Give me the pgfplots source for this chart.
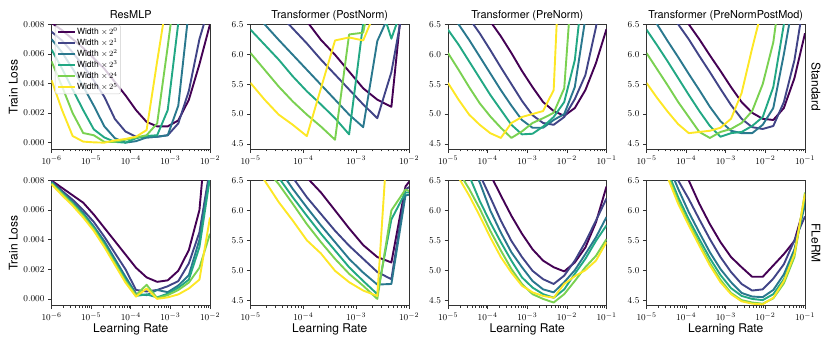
\documentclass[border=0pt]{standalone}
\usepackage{fontspec}
\setmainfont{TeX Gyre Heros}
\usepackage{pgfplots}
\usepackage{pgfplotstable}
\pgfplotsset{compat=1.18}

\definecolor{v0}{HTML}{440154}
\definecolor{v1}{HTML}{414487}
\definecolor{v2}{HTML}{2A788E}
\definecolor{v3}{HTML}{22A884}
\definecolor{v4}{HTML}{7AD151}
\definecolor{v5}{HTML}{FDE725}

\newcommand\lbl{\fontsize{12}{14}\selectfont}

% ResMLP, standard parametrisation
\pgfplotstableread{
lr        w0      w1      w2      w3      w4      w5
1e-6      0.0081  0.0075  0.0070  0.0063  0.0055  0.00423
1.848e-6  0.0076  0.0069  0.0061  0.0050  0.0038  0.0022
3.415e-6  0.0070  0.0061  0.0050  0.0036  0.0020  0.00045
6.310e-6  0.0064  0.0052  0.0038  0.0022  0.00065 0.00007
1.166e-5  0.0057  0.0042  0.0025  0.0009  0.0005  0.00002
2.154e-5  0.0050  0.0031  0.0011  0.00035 0.00005 0.0
3.981e-5  0.0041  0.0016  0.0003  0.00005 0.00005 0.00015
7.356e-5  0.0032  0.00075 0.0     0.0     0.0002  0.00025
1.359e-4  0.0022  0.0004  0.0001  0.0003  0.00035 0.0004
2.512e-4  0.0014  0.00035 0.00035 0.00045 0.0005  0.00085
4.642e-4  0.0011  0.0004  0.0004  0.0005  0.0013  0.0055
8.577e-4  0.0011  0.0005  0.0005  0.0022  0.0065  0.0100
1.585e-3  0.0015  0.0013  0.0025  0.0081  0.0120  0.0140
2.929e-3  0.0029  0.0035  0.0090  0.0120  0.0140  0.0160
5.412e-3  0.0053  0.0070  0.0120  0.0140  0.0160  0.0180
1e-2      0.0080  0.0094  0.0140  0.0160  0.0180  0.0200
}\mlpstd

% Transformer PostNorm, standard
\pgfplotstableread{
lr        w0    w1    w2    w3    w4    w5
1.000e-5  7.9   7.4   6.8   6.41  6.02  5.52
1.848e-5  7.6   7.1   6.5   6.16  5.74  5.24
3.415e-5  7.3   6.68  6.24  5.91  5.46  4.99
6.310e-5  7.0   6.43  5.99  5.63  5.21  4.82
1.166e-4  6.55  6.18  5.74  5.38  4.99  4.63
2.154e-4  6.24  5.91  5.49  5.16  4.79  5.43
3.981e-4  5.99  5.66  5.24  4.93  4.57  6.23
7.356e-4  5.71  5.41  4.99  4.66  6.33  6.28
1.359e-3  5.43  5.16  4.78  6.52  6.36  6.23
2.512e-3  5.24  4.93  6.22  7.0   7.57  6.8
4.642e-3  5.12  5.7   6.74  6.26  8.5   7.5
8.577e-3  7.44  7.0   7.5   6.93  9.0   8.0
1.585e-2  8.0   7.5   8.0   7.5   9.5   8.5
}\poststd

% Transformer PreNorm, standard
\pgfplotstableread{
lr        w0    w1    w2    w3    w4    w5
1.000e-5  7.6   7.2   6.8   6.41  6.02  5.52
1.848e-5  7.3   6.9   6.5   6.16  5.74  5.24
3.415e-5  7.05  6.6   6.24  5.88  5.45  4.99
6.310e-5  6.8   6.35  5.96  5.6   5.18  4.82
1.166e-4  6.55  6.07  5.68  5.32  4.96  4.68
2.154e-4  6.3   5.78  5.4   5.07  4.77  4.6
3.981e-4  6.02  5.5   5.14  4.82  4.6   4.85
7.356e-4  5.72  5.22  4.9   4.66  4.71  4.95
1.359e-3  5.45  4.98  4.77  4.67  4.85  5.0
2.512e-3  5.2   4.85  4.77  4.79  4.93  5.05
4.642e-3  5.05  4.82  4.9   4.95  5.02  5.4
8.577e-3  4.97  4.95  5.0   5.2   5.43  9.3
1.585e-2  5.1   5.25  5.45  5.9   7.9   12
2.929e-2  5.4   5.65  6.6   7.5   10    14
5.412e-2  5.85  6.45  8.0   9.0   12    16
1.000e-1  6.42  7.6   9.0   10    14    18
}\prestd

% Transformer PreNormPostMod, standard
\pgfplotstableread{
lr        w0    w1    w2    w3    w4    w5
1.000e-5  7.6   7.3   6.8   6.41  6.02  5.52
1.848e-5  7.3   7.0   6.5   6.15  5.75  5.27
3.415e-5  7.05  6.75  6.22  5.88  5.48  5.04
6.310e-5  6.8   6.5   5.95  5.6   5.2   4.83
1.166e-4  6.5   6.25  5.67  5.32  4.95  4.68
2.154e-4  6.25  5.97  5.4   5.05  4.7   4.7
3.981e-4  5.98  5.7   5.12  4.8   4.6   4.72
7.356e-4  5.72  5.42  4.88  4.62  4.7   4.77
1.359e-3  5.45  5.15  4.72  4.68  4.75  4.92
2.512e-3  5.2   4.92  4.68  4.7   4.85  5.35
4.642e-3  5.02  4.78  4.68  4.8   5.05  6.1
8.577e-3  4.92  4.75  4.82  4.95  5.5   6.8
1.585e-2  4.9   4.8   5.1   5.45  6.2   8.0
2.929e-2  5.1   5.2   6.0   6.5   7.5   10
5.412e-2  5.6   5.9   7.0   8.0   9.0   12
1.000e-1  6.35  7.0   8.0   9.0   10    14
}\modstd

% ResMLP, FLeRM
\pgfplotstableread{
lr        w0      w1      w2      w3      w4      w5
1e-6      0.0080  0.00795 0.0079  0.00785 0.0078  0.00775
1.848e-6  0.0075  0.0073  0.0072  0.00715 0.0071  0.0070
3.415e-6  0.0070  0.0067  0.00655 0.00645 0.0064  0.0063
6.310e-6  0.0065  0.0060  0.0058  0.0057  0.0056  0.0055
1.166e-5  0.0057  0.0052  0.0049  0.0048  0.0047  0.0046
2.154e-5  0.0048  0.0042  0.0039  0.0037  0.0036  0.0035
3.981e-5  0.0039  0.0031  0.0027  0.0025  0.0024  0.0023
7.356e-5  0.0030  0.0020  0.0015  0.0013  0.0012  0.0011
1.359e-4  0.0021  0.0006  0.00035 0.0002  0.00025 0.00015
2.512e-4  0.00145 0.0005  0.00025 0.0003  0.00095 0.0007
4.642e-4  0.00115 0.0006  0.0006  0.0001  0.00005 0.0
8.577e-4  0.00125 0.00085 0.00045 0.00035 0.00025 0.0001
1.585e-3  0.0019  0.0012  0.0009  0.00075 0.0006  0.0003
2.929e-3  0.0033  0.0024  0.0016  0.0013  0.0011  0.0007
5.412e-3  0.0060  0.0045  0.0040  0.0035  0.0021  0.0013
1e-2      0.0140  0.0088  0.0085  0.0082  0.0044  0.0055
}\mlpfl

% Transformer PostNorm, FLeRM
\pgfplotstableread{
lr        w0    w1    w2    w3    w4    w5
1.000e-5  7.9   7.6   7.4   7.2   7.0   6.9
1.848e-5  7.6   7.3   7.05  6.85  6.72  6.5
3.415e-5  7.3   7.0   6.7   6.55  6.44  6.14
6.310e-5  7.0   6.55  6.36  6.22  6.11  5.83
1.166e-4  6.55  6.22  6.05  5.91  5.77  5.5
2.154e-4  6.3   5.94  5.75  5.61  5.47  5.28
3.981e-4  6.0   5.66  5.47  5.33  5.19  4.99
7.356e-4  5.7   5.41  5.19  5.05  4.94  4.8
1.359e-3  5.42  5.19  4.96  4.82  4.74  4.66
2.512e-3  5.22  4.97  4.76  4.6   4.52  4.57
4.642e-3  5.13  4.85  4.77  5.85  6.0   8.2
8.577e-3  6.4   6.35  6.25  6.3   6.35  10
1.585e-2  6.7   6.5   6.3   6.3   6.25  11
}\postfl

% Transformer PreNorm, FLeRM
\pgfplotstableread{
lr        w0    w1    w2    w3    w4    w5
1.000e-5  8.0   7.7   7.5   7.3   7.1   7.0
1.848e-5  7.65  7.3   7.15  6.95  6.65  6.55
3.415e-5  7.3   6.95  6.8   6.58  6.36  6.25
6.310e-5  6.95  6.6   6.47  6.16  6.03  5.91
1.166e-4  6.6   6.22  6.0   5.8   5.66  5.55
2.154e-4  6.25  5.83  5.63  5.47  5.33  5.22
3.981e-4  5.91  5.49  5.3   5.16  5.02  4.96
7.356e-4  5.61  5.22  5.05  4.88  4.77  4.74
1.359e-3  5.35  4.99  4.82  4.71  4.6   4.63
2.512e-3  5.16  4.85  4.68  4.6   4.52  4.57
4.642e-3  5.05  4.77  4.63  4.54  4.46  4.54
8.577e-3  4.98  4.91  4.8   4.68  4.6   4.77
1.585e-2  5.13  5.16  5.0   4.94  4.82  4.9
2.929e-2  5.38  5.47  5.27  5.19  5.05  5.0
5.412e-2  5.8   5.83  5.55  5.49  5.24  5.16
1.000e-1  6.4   6.2   5.89  5.75  5.52  5.47
}\prefl

% Transformer PreNormPostMod, FLeRM
\pgfplotstableread{
lr        w0    w1    w2    w3    w4    w5
1.000e-5  7.9   7.7   7.6   7.5   7.45  7.4
1.848e-5  7.5   7.3   7.2   7.1   7.05  7.0
3.415e-5  7.15  6.9   6.78  6.65  6.6   6.55
6.310e-5  6.85  6.5   6.36  6.22  6.15  6.11
1.166e-4  6.5   6.19  5.97  5.85  5.79  5.75
2.154e-4  6.11  5.85  5.63  5.52  5.45  5.41
3.981e-4  5.77  5.52  5.3   5.2   5.12  5.08
7.356e-4  5.47  5.22  5.02  4.92  4.84  4.8
1.359e-3  5.22  4.97  4.8   4.7   4.62  4.6
2.512e-3  5.05  4.77  4.62  4.57  4.5   4.48
4.642e-3  4.89  4.66  4.56  4.52  4.46  4.44
8.577e-3  4.89  4.68  4.55  4.5   4.44  4.43
1.585e-2  5.08  4.86  4.67  4.6   4.53  4.54
2.929e-2  5.27  5.1   4.93  4.85  4.78  4.82
5.412e-2  5.49  5.5   5.35  5.3   5.22  5.27
1.000e-1  6.11  5.9   6.1   6.2   6.3   6.28
}\modfl

\pgfplotsset{
  panel/.style={
    scale only axis, width=158.5pt, height=125pt, anchor=south west,
    axis line style={black!80, line width=0.7pt},
    tick style={black!80, line width=0.6pt},
    tick align=outside, xtick pos=bottom, ytick pos=left,
    major tick length=3.5pt, minor tick length=2pt,
    tick label style={font=\fontsize{9.5}{11}\selectfont},
    % the default title style already shifts up by 6pt
    title style={font=\fontsize{10.9}{13}\selectfont, at={(0.5,1)}, anchor=south,
      inner sep=0pt, text depth=2.5pt, yshift=-3.2pt},
    cycle list={{v0},{v1},{v2},{v3},{v4},{v5}},
    no markers,
    every axis plot/.append style={line width=1.9pt, line join=round},
  },
  mlp/.style={panel, xmin=1e-6, xmax=1e-2, xtick={1e-6,1e-5,1e-4,1e-3,1e-2},
    ymin=-0.00045, ymax=0.008, ytick={0,0.002,0.004,0.006,0.008},
    scaled y ticks=false,
    yticklabel style={/pgf/number format/fixed, /pgf/number format/fixed zerofill,
      /pgf/number format/precision=3}},
  tfm/.style={panel, xmin=1e-5, ymin=4.41, ymax=6.5, ytick={4.5,5,5.5,6,6.5},
    yticklabel style={/pgf/number format/fixed, /pgf/number format/fixed zerofill,
      /pgf/number format/precision=1}},
  short/.style={xmax=1e-2, xtick={1e-5,1e-4,1e-3,1e-2}},
  long/.style={xmax=1e-1, xtick={1e-5,1e-4,1e-3,1e-2,1e-1}},
  lefty/.style={ylabel={Train Loss},
    ylabel style={at={(axis description cs:-0.241,0.5)}, anchor=center, font=\lbl}},
  righty/.style={ylabel={#1},
    ylabel style={at={(axis description cs:1.069,0.5)}, rotate=180, anchor=center, font=\lbl}},
  xlab/.style={xlabel={Learning Rate},
    xlabel style={at={(axis description cs:0.5,-0.19)}, anchor=center, font=\lbl}},
}

\begin{document}
\begin{tikzpicture}
\path[use as bounding box] (0,0) rectangle (830pt,346pt);

% top row: standard
\begin{semilogxaxis}[mlp, at={(51.5pt,196.7pt)}, title={ResMLP}, lefty,
  legend cell align=left,
  legend style={at={(0.022,0.995)}, anchor=north west, font=\fontsize{8.5}{9.5}\selectfont,
    draw=black!20, fill=white, fill opacity=0.8, text opacity=1, rounded corners=2pt,
    inner sep=2pt, row sep=1.8pt,
    nodes={inner sep=1pt, text height=6.3pt, text depth=1pt}},
  legend image code/.code={\draw[#1, line width=1.9pt] (0pt,0pt) -- (17pt,0pt);}]
\addplot table[x=lr, y=w0] {\mlpstd};
\addplot table[x=lr, y=w1] {\mlpstd};
\addplot table[x=lr, y=w2] {\mlpstd};
\addplot table[x=lr, y=w3] {\mlpstd};
\addplot table[x=lr, y=w4] {\mlpstd};
\addplot table[x=lr, y=w5] {\mlpstd};
\legend{Width $\times\,2^{0}$, Width $\times\,2^{1}$, Width $\times\,2^{2}$,
    Width $\times\,2^{3}$, Width $\times\,2^{4}$, Width $\times\,2^{5}$}
\end{semilogxaxis}

\begin{semilogxaxis}[tfm, short, at={(250.5pt,196.7pt)}, title={Transformer (PostNorm)}]
\pgfplotsinvokeforeach{0,...,5}{\addplot table[x=lr, y=w#1] {\poststd};}
\end{semilogxaxis}

\begin{semilogxaxis}[tfm, long, at={(448pt,196.7pt)}, title={Transformer (PreNorm)}]
\pgfplotsinvokeforeach{0,...,5}{\addplot table[x=lr, y=w#1] {\prestd};}
\end{semilogxaxis}

\begin{semilogxaxis}[tfm, long, at={(646.5pt,196.7pt)}, title={Transformer (PreNormPostMod)}, righty={Standard}]
\pgfplotsinvokeforeach{0,...,5}{\addplot table[x=lr, y=w#1] {\modstd};}
\end{semilogxaxis}

% bottom row: FLeRM
\begin{semilogxaxis}[mlp, at={(51.5pt,40.5pt)}, lefty, xlab]
\pgfplotsinvokeforeach{0,...,5}{\addplot table[x=lr, y=w#1] {\mlpfl};}
\end{semilogxaxis}

\begin{semilogxaxis}[tfm, short, at={(250.5pt,40.5pt)}, xlab]
\pgfplotsinvokeforeach{0,...,5}{\addplot table[x=lr, y=w#1] {\postfl};}
\end{semilogxaxis}

\begin{semilogxaxis}[tfm, long, at={(448pt,40.5pt)}, xlab]
\pgfplotsinvokeforeach{0,...,5}{\addplot table[x=lr, y=w#1] {\prefl};}
\end{semilogxaxis}

\begin{semilogxaxis}[tfm, long, at={(646.5pt,40.5pt)}, xlab, righty={FLeRM}]
\pgfplotsinvokeforeach{0,...,5}{\addplot table[x=lr, y=w#1] {\modfl};}
\end{semilogxaxis}
\end{tikzpicture}
\end{document}
